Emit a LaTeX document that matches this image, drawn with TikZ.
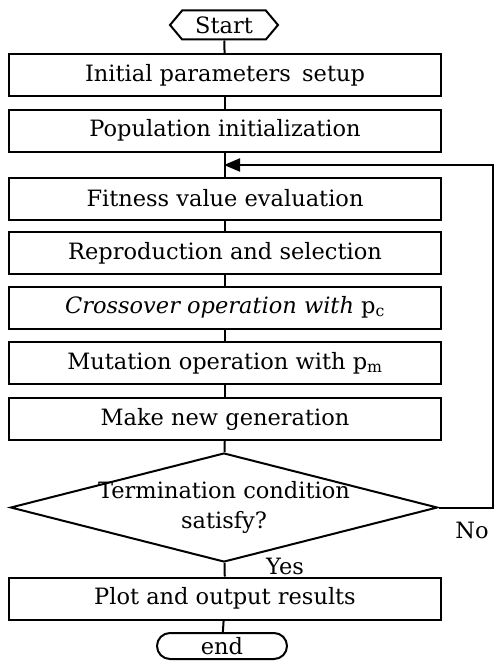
\documentclass[tikz,border=0pt]{standalone}
\usepackage{fontspec}
\setmainfont{DejaVu Serif}
\usepackage{tikz}
\usetikzlibrary{shapes.geometric,shapes.misc,shapes.symbols,arrows.meta}
\tikzset{gafont/.style={font=\fontsize{22.5}{30}\selectfont}}
\tikzset{gabox/.style={draw, line width=2pt, gafont, minimum width=432pt, minimum height=42pt, inner sep=0pt}}
\tikzset{gastart/.style={draw, line width=2pt, gafont, shape=signal, signal to=west and east, signal pointer angle=100, minimum width=108pt, minimum height=29pt, inner sep=0pt}}
\tikzset{gaend/.style={draw, line width=2pt, gafont, shape=rounded rectangle, minimum width=130pt, minimum height=26pt, inner sep=0pt}}
\tikzset{gacond/.style={draw, line width=2pt, gafont, shape=diamond, aspect=3.9, align=center, inner xsep=-20pt, inner ysep=-10pt, minimum width=427pt, minimum height=109pt}}
\tikzset{galine/.style={line width=2pt}}

\begin{document}
\begin{tikzpicture}[x=1pt, y=-1pt]
	\useasboundingbox[fill=white] (0,0) rectangle (494,661);

	\node[gastart] (start) at (224,25) {Start};
	\node[gabox] (setup) at (225,75) {Initial parameters\enspace setup};
	\node[gabox] (popinit) at (225,130.5) {Population initialization};
	\coordinate (join) at (224,165);
	\node[gabox] (fitness) at (225,198.5) {Fitness value evaluation};
	\node[gabox] (repro) at (225,253) {Reproduction and selection};
	\node[gabox] (cross) at (225,307.5) {{\itshape Crossover operation with} p\textsubscript{c}};
	\node[gabox] (mutat) at (225,363) {Mutation operation with p\textsubscript{m}};
	\node[gabox] (newgen) at (225,419) {Make new generation};
	\node[gacond] (cond) at (224,507.5) {Termination condition\\satisfy?};
	\coordinate (back) at (493,165);
	\node[gabox] (plot) at (225,598.5) {Plot and output results};
	\node[gaend] (stop) at (222,646) {end};

	\node[gafont] (no) at (472,530) {No};
	\node[gafont] (yes) at (285,566) {Yes};

	\draw[galine] (start) -- (setup);
	\draw[galine] (setup) -- (popinit);
	\draw[galine] (popinit) -- (fitness);
	\draw[galine] (fitness) -- (repro);
	\draw[galine] (repro) -- (cross);
	\draw[galine] (cross) -- (mutat);
	\draw[galine] (mutat) -- (newgen);
	\draw[galine] (newgen) -- (cond);
	\draw[galine] (cond) -- (plot);
	\draw[galine] (plot) -- (stop);
	\draw[galine, -{Triangle[length=16pt, width=13pt]}] (cond.east) -| (back) -- (join);

\end{tikzpicture}
\end{document}
